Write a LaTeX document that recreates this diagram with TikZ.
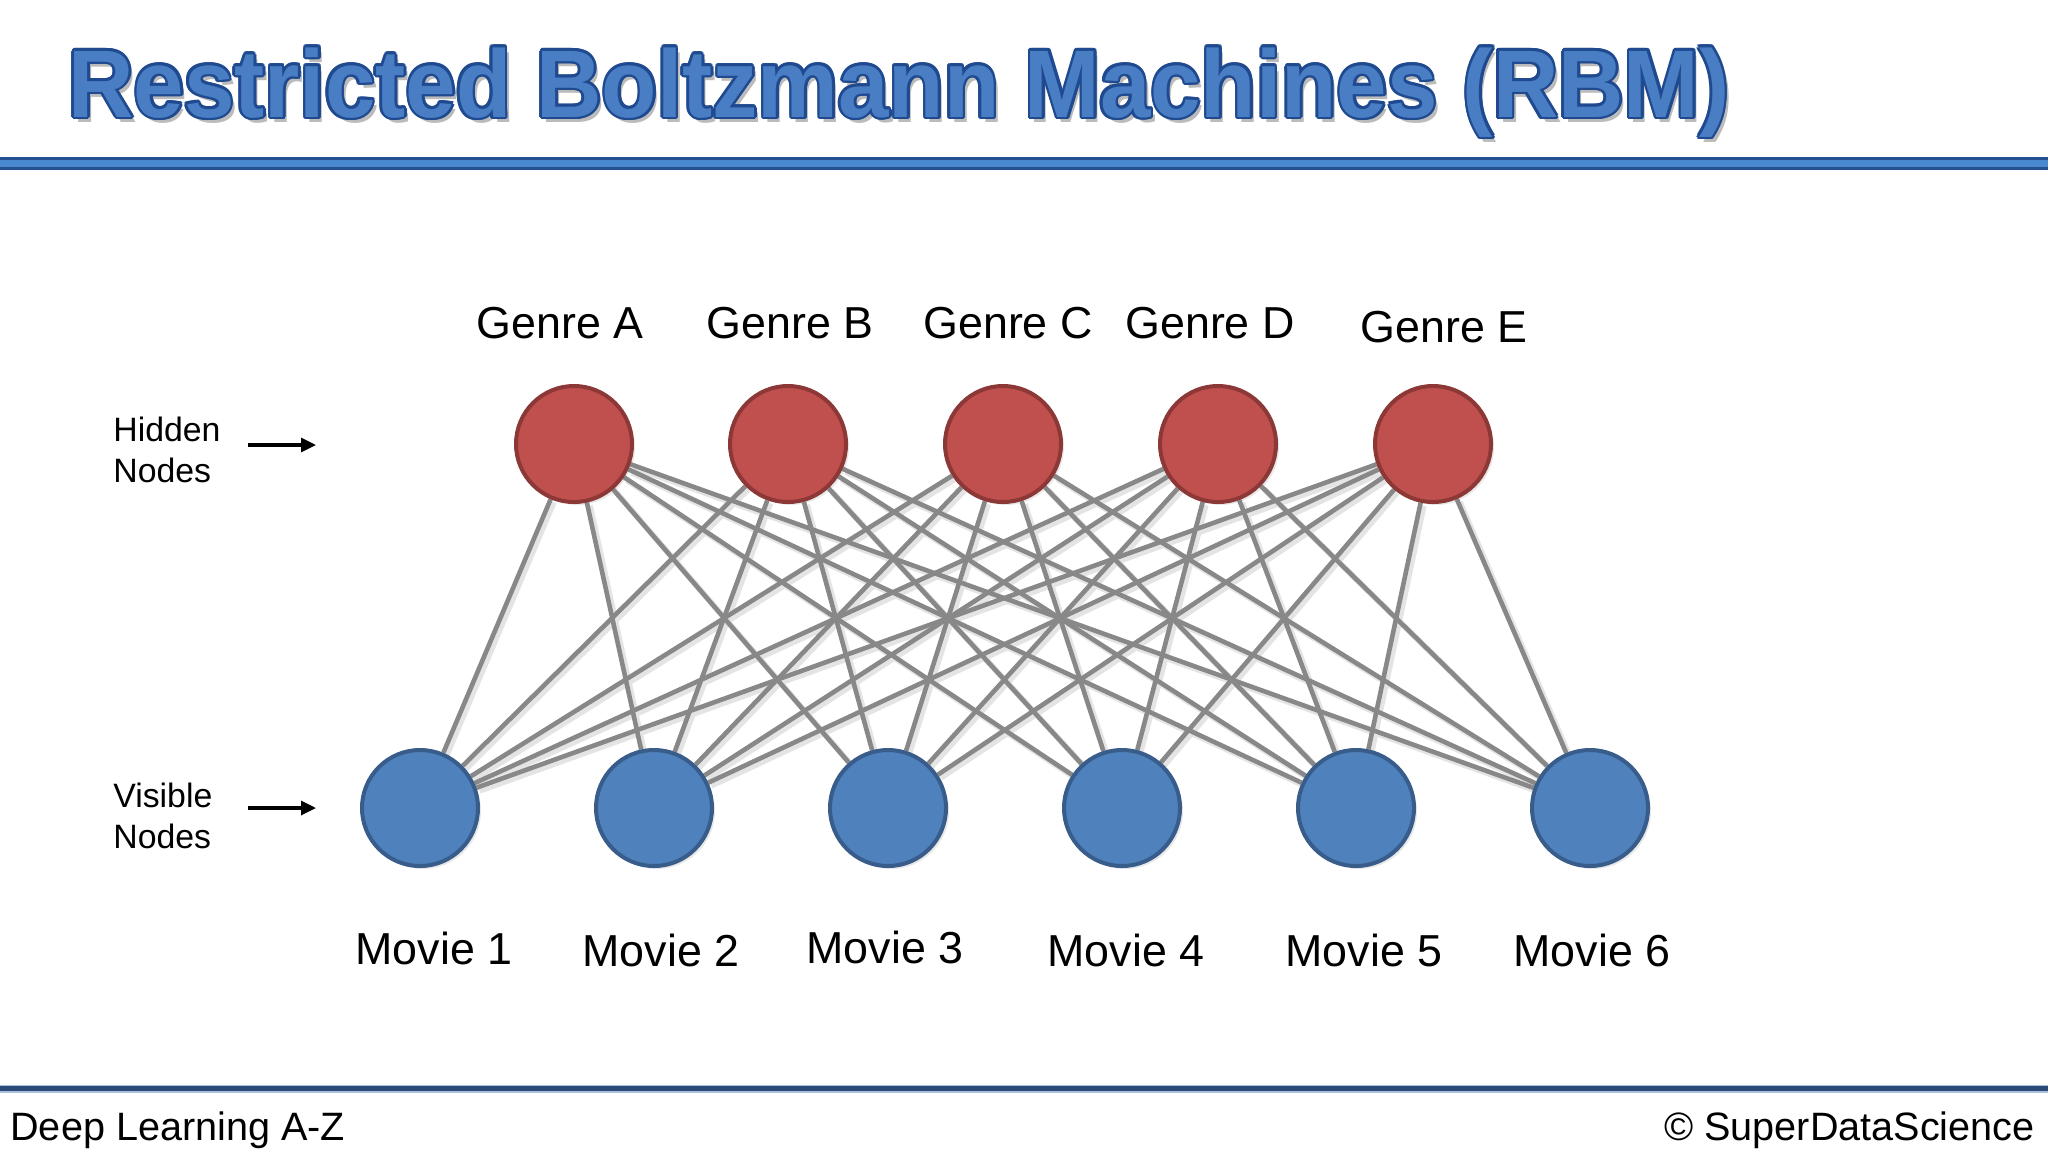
\documentclass[tikz,border=0pt]{standalone}
\usepackage{fontspec}
\setmainfont{Liberation Sans}
\usetikzlibrary{shadows,backgrounds,arrows.meta}
\pgfdeclarelayer{bottom}
\pgfsetlayers{bottom,background,main}
\definecolor{hidfill}{HTML}{C0504D}
\definecolor{hidedge}{HTML}{8C3836}
\definecolor{visfill}{HTML}{4F81BD}
\definecolor{visedge}{HTML}{385D8A}
\definecolor{edgegray}{HTML}{888888}
\definecolor{edgeshadow}{HTML}{E4E4E4}
\definecolor{titlefill}{HTML}{4A7EC4}
\definecolor{titleedge}{HTML}{1F4A8F}
\definecolor{titleshadow}{HTML}{BBBBBB}
\definecolor{rulefill}{HTML}{4A88CF}
\definecolor{ruleedge}{HTML}{24508F}
\definecolor{footrule}{HTML}{2C4A78}
\definecolor{footlight}{HTML}{A9BFDC}
\newcommand\rbmtitle{Restricted Boltzmann Machines (RBM)}
\begin{document}
\begin{tikzpicture}[x=0.5pt,y=-0.5pt,
  titletxt/.style={anchor=base west,inner sep=0pt,yscale=1.06,font=\fontsize{45.3}{50}\bfseries\selectfont},
  hidnode/.style={circle,minimum size=58pt,inner sep=0pt,fill=hidfill,draw=hidedge,line width=2pt,
    drop shadow={opacity=0.18,shadow xshift=1.5pt,shadow yshift=-1.5pt}},
  visnode/.style={circle,minimum size=58pt,inner sep=0pt,fill=visfill,draw=visedge,line width=2pt,
    drop shadow={opacity=0.18,shadow xshift=1.5pt,shadow yshift=-1.5pt}},
  biglabel/.style={anchor=base,inner sep=0pt,font=\fontsize{22.4}{27}\selectfont},
  sidelabel/.style={anchor=base west,inner sep=0pt,align=left,font=\fontsize{16.9}{20.2}\selectfont},
  foot/.style={inner sep=0pt,font=\fontsize{19.8}{24}\selectfont},
  edge/.style={draw=edgegray,line width=2.3pt},
  edgeshade/.style={draw=edgeshadow,line width=3pt},
  sidearrow/.style={draw=black,line width=1.6pt,-{Triangle[length=7.5pt,width=7pt]}}
]
\begin{pgfonlayer}{bottom}
\fill[white] (0,0) rectangle (2048,1152);
\end{pgfonlayer}
\useasboundingbox (0,0) rectangle (2048,1152);

% title
\node[titletxt,text=titleshadow] (tsh) at (72,122) {\rbmtitle};
\foreach \a in {0,30,...,330}
  \node[titletxt,text=titleedge,shift={(\a:1.3pt)}] (to\a) at (68,117) {\rbmtitle};
\node[titletxt,text=titlefill] (title) at (68,117) {\rbmtitle};

% title rule
\fill[ruleedge] (0,157) rectangle (2048,170);
\fill[rulefill] (0,159.5) rectangle (2048,166.5);

% footer rule
\fill[footlight] (0,1084.5) rectangle (2048,1092.5);
\fill[footrule] (0,1086) rectangle (2048,1091);

% hidden nodes
\node[hidnode] (h1) at (574,444) {};
\node[hidnode] (h2) at (788,444) {};
\node[hidnode] (h3) at (1003,444) {};
\node[hidnode] (h4) at (1218,444) {};
\node[hidnode] (h5) at (1433,444) {};

% visible nodes
\node[visnode] (v1) at (420,808) {};
\node[visnode] (v2) at (654,808) {};
\node[visnode] (v3) at (888,808) {};
\node[visnode] (v4) at (1122,808) {};
\node[visnode] (v5) at (1356,808) {};
\node[visnode] (v6) at (1590,808) {};

% connections
\begin{scope}[on background layer]
  \foreach \h in {1,...,5}
    \foreach \v in {1,...,6}
      \draw[edgeshade,transform canvas={xshift=1.5pt,yshift=-1.5pt}] (h\h) -- (v\v);
  \foreach \h in {1,...,5}
    \foreach \v in {1,...,6}
      \draw[edge] (h\h) -- (v\v);
\end{scope}

% genre labels
\node[biglabel] (ga) at (560,338) {Genre A};
\node[biglabel] (gb) at (790,338) {Genre B};
\node[biglabel] (gc) at (1008,338) {Genre C};
\node[biglabel] (gd) at (1210,338) {Genre D};
\node[biglabel] (ge) at (1444,342) {Genre E};

% movie labels
\node[biglabel] (m1) at (434,964) {Movie 1};
\node[biglabel] (m2) at (661,966) {Movie 2};
\node[biglabel] (m3) at (885,963) {Movie 3};
\node[biglabel] (m4) at (1126,966) {Movie 4};
\node[biglabel] (m5) at (1364,966) {Movie 5};
\node[biglabel] (m6) at (1592,966) {Movie 6};

% side labels
\node[sidelabel] (hid) at (113,482) {Hidden\\Nodes};
\node[sidelabel] (vis) at (113,848) {Visible\\Nodes};
\coordinate (ha0) at (248,445);
\coordinate (ha1) at (316,445);
\coordinate (va0) at (248,808);
\coordinate (va1) at (316,808);
\draw[sidearrow] (ha0) -- (ha1);
\draw[sidearrow] (va0) -- (va1);

% footer
\node[foot,anchor=base west] (fl) at (10,1140) {Deep Learning A-Z};
\node[foot,anchor=base east] (fr) at (2035,1140) {© SuperDataScience};
\end{tikzpicture}
\end{document}
